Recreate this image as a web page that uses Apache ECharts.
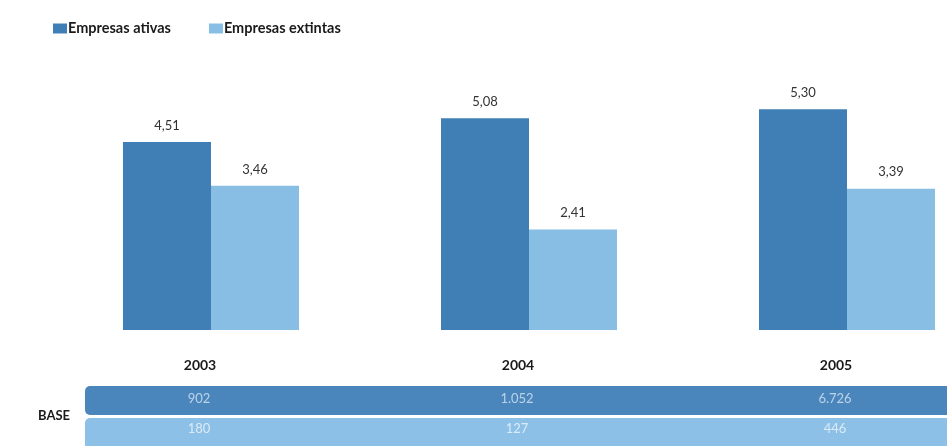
<!DOCTYPE html>
<html>
<head>
<meta charset="utf-8">
<script src="https://cdn.jsdelivr.net/npm/echarts@6/dist/echarts.min.js"></script>
<style>
html,body{margin:0;padding:0;background:#fff;}
#chart{width:947px;height:446px;}
</style>
</head>
<body>
<div id="chart"></div>
<script>
// ---- data ----
var years = ['2003', '2004', '2005'];
var seriesNames = ['Empresas ativas', 'Empresas extintas'];
var ativas = [4.51, 5.08, 5.30];
var extintas = [3.46, 2.41, 3.39];
var baseAtivas = [902, 1052, 6726];
var baseExtintas = [180, 127, 446];
var baseLabel = 'BASE';

var DARK = '#3f7fb5';
var LIGHT = '#88bee4';
var FONT = 'Lato, "Open Sans", sans-serif';

function fmtDec(v) { return v.toFixed(2).replace('.', ','); }
function fmtInt(v) { return String(v).replace(/\B(?=(\d{3})+(?!\d))/g, '.'); }

var chart = echarts.init(document.getElementById('chart'), null, {renderer: 'canvas'});
chart.setOption({
  animation: false,
  backgroundColor: '#ffffff',
  textStyle: {fontFamily: FONT},
  legend: {
    left: 48, top: 16,
    itemWidth: 14, itemHeight: 10, itemGap: 38,
    icon: 'rect',
    textStyle: {fontFamily: FONT, fontWeight: 'bold', fontSize: 14.5, color: '#1a1a1a', padding: [0, 0, 0, -4]},
    data: seriesNames
  },
  grid: [
    {left: 211, width: 636, top: 80, height: 250},
    {left: 211, width: 636, top: 386, height: 62}
  ],
  xAxis: [
    {type: 'category', gridIndex: 0, data: years, boundaryGap: false,
     axisLine: {show: false}, axisTick: {show: false}, axisLabel: {show: false}, splitLine: {show: false}},
    {type: 'category', gridIndex: 1, data: years, position: 'top', boundaryGap: false,
     axisLine: {show: false}, axisTick: {show: false}, splitLine: {show: false},
     axisLabel: {show: true, margin: 14, fontFamily: FONT, fontWeight: 'bold', fontSize: 14, color: '#1a1a1a', padding: [0, 22, 0, 0]}}
  ],
  yAxis: [
    {type: 'value', gridIndex: 0, min: 0, max: 6, show: false},
    {type: 'category', gridIndex: 1, data: ['ativas', 'extintas'], inverse: true, show: false}
  ],
  graphic: [
    {type: 'rect', shape: {x: 85, y: 386, width: 880, height: 29, r: 5}, style: {fill: '#4a85bc'}, z: 0},
    {type: 'rect', shape: {x: 85, y: 418, width: 880, height: 40, r: 5}, style: {fill: '#8dc0e6'}, z: 0},
    {type: 'text', left: 38, top: 409, style: {text: baseLabel, font: 'bold 13px ' + FONT, fill: '#1a1a1a'}, z: 5}
  ],
  series: [
    {name: seriesNames[0], type: 'bar', xAxisIndex: 0, yAxisIndex: 0, data: ativas, clip: false,
     barWidth: 88, barGap: '0%', itemStyle: {color: DARK},
     label: {show: true, position: 'top', distance: 10, fontFamily: FONT, fontSize: 13, color: '#333',
             formatter: function (p) { return fmtDec(p.value); }}},
    {name: seriesNames[1], type: 'bar', xAxisIndex: 0, yAxisIndex: 0, data: extintas, clip: false,
     barWidth: 88, barGap: '0%', itemStyle: {color: LIGHT},
     label: {show: true, position: 'top', distance: 10, fontFamily: FONT, fontSize: 13, color: '#333',
             formatter: function (p) { return fmtDec(p.value); }}},
    {type: 'scatter', xAxisIndex: 1, yAxisIndex: 1, symbolSize: 0, z: 10, clip: false,
     data: baseAtivas.map(function (v, i) { return [years[i], 'ativas', v]; }),
     label: {show: true, position: 'inside', offset: [-12, -2], fontFamily: FONT, fontSize: 13, color: '#d6e6f3',
             formatter: function (p) { return fmtInt(p.value[2]); }}},
    {type: 'scatter', xAxisIndex: 1, yAxisIndex: 1, symbolSize: 0, z: 10, clip: false,
     data: baseExtintas.map(function (v, i) { return [years[i], 'extintas', v]; }),
     label: {show: true, position: 'inside', offset: [-12, -2], fontFamily: FONT, fontSize: 13, color: '#eef5fb',
             formatter: function (p) { return fmtInt(p.value[2]); }}}
  ]
});
</script>
</body>
</html>
